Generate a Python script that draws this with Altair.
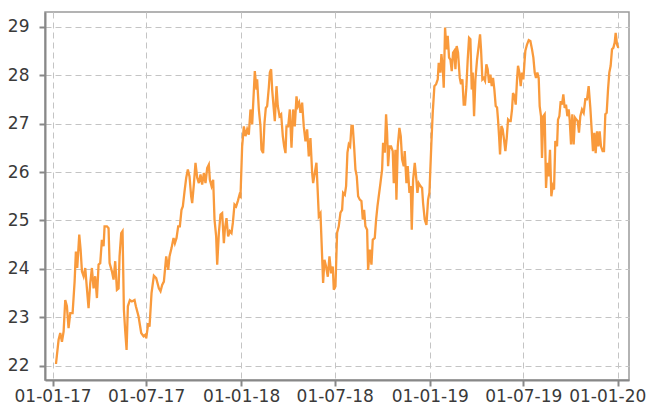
import altair as alt
import pandas as pd

# day offsets from 2017-01-01 and the series values
days = [
    6.5, 11.6, 14.8, 18.1, 21.3, 24.5, 27.7, 30.9, 34.2, 38.7, 42.6, 45.1, 47.7, 51.6, 54.2, 56.8,
    60.0, 63.2, 66.4, 69.6, 72.9, 76.1, 79.3, 82.5, 85.8, 89.0, 92.2, 95.4, 98.7, 100.6, 105.1,
    108.3, 110.3, 114.8, 118.0, 121.2, 124.5, 127.7, 129.6, 132.8, 135.4, 138.0, 140.6, 143.2,
    145.7, 149.6, 153.5, 158.6, 161.2, 166.4, 171.5, 176.1, 179.3,
    181.2, 185.1, 187.6, 191.5, 196.0, 200.5, 205.7, 208.9, 212.1, 215.4, 219.9, 223.8, 226.3,
    230.2, 234.1, 236.7, 239.9, 243.1, 246.3, 249.5, 252.1, 255.4, 258.6, 261.8, 265.0, 268.2,
    270.2, 273.4, 276.6, 279.9, 283.1, 286.3, 289.5, 292.8, 296.0, 299.2, 302.4, 304.4, 307.6,
    310.8, 313.4, 316.6, 318.6, 321.8, 325.0, 328.2, 331.5, 333.4, 336.6, 339.8, 343.1, 346.3,
    348.9, 352.1, 355.3, 358.5, 361.8,
    363.7, 366.9, 370.2, 373.4, 376.6, 379.8, 383.0, 386.3, 389.5, 391.4, 394.7, 395.9, 399.2,
    402.4, 404.3, 407.5, 410.1, 412.7, 415.3, 418.5, 420.5, 423.0, 425.0, 428.2, 430.1, 433.4,
    435.9, 439.2, 442.4, 445.6, 448.2, 450.8, 452.7, 456.0, 459.2, 462.4, 465.6, 468.8, 472.1,
    474.6, 477.2, 479.8, 483.0, 486.2, 489.5, 492.7, 495.9, 499.1, 502.4, 504.3, 507.5, 510.7,
    513.3, 515.3, 518.5, 521.7, 523.6, 526.2, 529.4, 532.7, 535.9, 539.1, 542.3, 544.3, 547.5,
    550.7, 553.9, 557.2, 560.4, 562.3, 565.6, 568.1, 570.7, 573.3, 575.9, 578.5, 581.0, 583.6,
    586.2, 588.8, 591.4, 594.6, 597.8, 600.4, 603.0, 605.5, 608.8, 610.7, 613.9, 617.2, 619.7,
    623.6, 626.2, 628.8, 631.3, 634.6, 637.8, 639.7, 643.0, 645.5, 647.5, 649.4, 652.0, 655.2,
    658.4, 660.4, 663.6, 665.5, 668.1, 671.3, 673.9, 676.5, 679.7, 681.6, 684.9, 687.4, 690.7,
    693.2, 695.2, 697.8, 701.0, 703.6, 706.2, 708.7, 712.0, 715.2, 717.1, 720.3, 723.6, 726.8,
    729.4,
    733.2, 735.8, 739.0, 742.3, 745.5, 747.4, 750.6, 752.6, 755.2, 757.1, 759.7, 762.3, 764.8,
    767.4, 770.0, 772.6, 775.2, 777.7, 779.7, 782.2, 784.8, 788.1, 790.6, 793.2, 795.8, 798.4,
    801.0, 803.5, 806.1, 808.7, 811.3, 813.2, 815.8, 818.4, 821.6, 824.8, 827.4, 829.3, 831.9,
    834.5, 837.1, 839.6, 842.2, 844.8, 847.4, 850.0, 852.5, 855.1, 857.7, 860.3, 862.2, 864.2,
    866.1, 868.7, 871.2, 873.8, 876.4, 879.0, 881.6, 884.1, 886.7, 889.3, 891.2, 893.8, 896.4,
    899.0, 900.9, 903.5, 906.1, 908.6, 911.2, 913.8,
    915.1, 918.3, 921.6, 924.8, 928.0, 930.6, 933.2, 935.7, 938.3, 940.9, 942.8, 945.4, 947.3,
    949.9, 952.5, 955.1, 957.7, 960.2, 962.8, 965.4, 968.0, 970.6, 973.1, 976.4, 978.3, 980.9,
    983.5, 986.0, 988.6, 991.2, 993.8, 996.4, 998.9, 1000.9, 1003.5, 1006.0, 1008.6, 1011.2,
    1013.8, 1016.3, 1018.9, 1021.5, 1024.7, 1028.0, 1031.2, 1034.4, 1037.6, 1040.9, 1043.4,
    1046.0, 1048.6, 1051.2, 1053.8, 1056.4, 1058.9, 1061.5, 1064.7, 1067.3, 1069.9, 1072.5,
    1075.1, 1077.6, 1080.2, 1082.8, 1085.4, 1088.0, 1089.9, 1092.5, 1095.1,
]

values = [
    22.04, 22.54, 22.68, 22.50, 22.71, 23.36, 23.23, 22.78, 23.09, 23.09, 23.74, 24.36, 24.02, 24.71, 24.40, 23.95,
    23.85, 24.02, 23.60, 23.19, 23.71, 24.02, 23.60, 23.85, 23.40, 24.09, 24.12, 24.60, 24.47, 24.88, 24.88,
    24.84, 24.12, 23.95, 23.78, 24.16, 23.57, 23.60, 24.26, 24.74, 24.78, 23.16, 22.71, 22.33,
    23.23, 23.36, 23.33, 23.36, 23.23, 23.02, 22.68, 22.61, 22.64,
    22.57, 22.88, 22.81, 23.50, 23.86, 23.81, 23.60, 23.54, 23.67, 23.74, 24.26, 23.98, 24.26,
    24.43, 24.64, 24.53, 24.64, 24.88, 24.88, 25.22, 25.29, 25.60, 25.88, 26.05, 25.91, 25.50,
    25.36, 25.74, 26.19, 25.88, 25.77, 25.95, 25.74, 25.98, 25.77, 26.08, 26.15, 25.84, 25.71,
    25.84, 25.02, 24.67, 24.09, 24.74, 25.12, 25.15, 24.53, 24.81, 25.05, 24.67, 24.78, 24.74,
    24.95, 25.33, 25.29, 25.40, 25.53,
    25.50, 26.53, 26.94, 26.74, 26.88, 26.77, 27.29, 26.98, 27.67, 28.08, 27.70, 27.91, 27.29,
    26.94, 26.46, 26.39, 27.01, 27.32, 27.36, 27.74, 28.05, 28.12, 27.70, 27.29, 27.05, 27.77,
    27.36, 27.15, 27.19, 26.74, 26.53, 26.39, 26.94, 26.94, 27.29, 26.50, 27.29, 26.94, 27.56,
    27.36, 27.43, 27.22, 27.43, 26.94, 26.63, 26.88, 26.32, 26.70, 25.98, 25.77, 25.98, 26.19,
    25.57, 25.09, 25.15, 24.26, 23.71, 24.19, 24.05, 23.84, 24.26, 23.91, 24.05, 23.57, 23.64,
    24.75, 24.88, 25.16, 25.22, 25.57, 25.53, 25.71, 26.40, 26.57, 26.53, 26.95, 26.95, 26.53,
    26.05, 25.91, 25.50, 25.43, 25.40, 25.02, 25.22, 24.88, 24.81, 23.98, 24.40, 24.09, 24.60,
    24.64, 25.02, 25.29, 25.50, 25.77, 26.05, 26.60, 26.40, 27.19, 26.81, 26.12, 26.53, 26.53,
    26.43, 25.77, 26.46, 25.43, 26.53, 26.91, 26.74, 26.26, 26.12, 26.43, 25.77, 26.12, 25.57,
    25.71, 24.81, 25.84, 26.19, 25.91, 25.57, 25.77, 25.71, 25.67, 25.36, 25.02, 24.91, 25.43,
    25.57,
    26.60, 27.22, 27.77, 27.81, 27.91, 28.25, 28.05, 28.43, 28.15, 27.74, 28.98, 28.53, 28.81,
    28.36, 28.32, 28.08, 28.46, 28.50, 28.12, 28.60, 28.46, 27.94, 27.81, 27.91, 27.39, 27.39,
    27.77, 28.32, 28.77, 28.74, 27.70, 28.05, 27.15, 27.91, 28.32, 28.60, 28.84, 28.53, 27.91,
    27.94, 27.88, 28.22, 28.12, 27.84, 28.01, 27.77, 27.94, 27.70, 27.36, 27.33, 27.08, 26.74,
    26.36, 26.95, 26.88, 26.67, 26.43, 26.70, 27.08, 27.05, 27.05, 27.29, 27.63, 27.57, 27.39,
    27.91, 28.19, 28.05, 27.77, 28.05, 27.91, 28.32,
    28.50, 28.63, 28.72, 28.70, 28.53, 28.36, 28.05, 27.94, 28.05, 27.94, 27.36, 27.15, 26.29,
    27.15, 27.19, 25.67, 26.19, 25.91, 26.46, 25.50, 25.71, 25.64, 26.64, 26.53, 27.08, 27.15,
    27.46, 27.39, 27.60, 27.32, 27.39, 27.15, 27.29, 27.08, 26.57, 27.19, 26.57, 27.12,
    27.08, 27.05, 26.81, 27.15, 27.29, 27.22, 27.50, 27.50, 27.77, 27.32, 26.88,
    26.43, 26.81, 26.39, 26.84, 26.53, 26.84, 26.53, 26.43, 26.43, 27.19, 27.22,
    27.70, 28.05, 28.19, 28.53, 28.56, 28.67, 28.87, 28.63, 28.56,
]

y_ticks = [22, 23, 24, 25, 26, 27, 28, 29]
x_ticks = [(2017, 1), (2017, 7), (2018, 1), (2018, 7), (2019, 1), (2019, 7), (2020, 1)]

dates = pd.Timestamp("2017-01-01") + pd.to_timedelta(days, unit="D")
df = pd.DataFrame({"date": dates, "value": values})

font = "DejaVu Sans"

chart = (
    alt.Chart(df)
    .mark_line(color="#f99a3c", strokeWidth=2.3)
    .encode(
        x=alt.X(
            "date:T",
            scale=alt.Scale(
                domain=[
                    alt.DateTime(year=2016, month=12, date=17, hours=7),
                    alt.DateTime(year=2020, month=1, date=21, hours=17),
                ]
            ),
            axis=alt.Axis(
                values=[alt.DateTime(year=y, month=m, date=1) for y, m in x_ticks],
                format="%d-%m-%y",
                title=None,
                labelPadding=2,
                labelOffset={
                    "condition": {"test": "year(datum.value) >= 2020", "value": -11},
                    "value": 0,
                },
            ),
        ),
        y=alt.Y(
            "value:Q",
            scale=alt.Scale(domain=[21.71, 29.3], nice=False, zero=False),
            axis=alt.Axis(values=y_ticks, title=None, labelPadding=10),
        ),
    )
    .properties(
        width=584,
        height=368,
        autosize=alt.AutoSizeParams(type="none"),
        padding={"left": 37, "top": 4, "right": 17, "bottom": 24},
    )
    .configure_axis(
        labelFont=font,
        labelFontSize=17,
        labelColor="#3a3a3a",
        domainColor="#888888",
        domainWidth=2,
        tickColor="#888888",
        tickWidth=2,
        tickSize=6,
        gridColor="#c4c4c4",
        gridDash=[6, 4],
        gridWidth=1,
        labelBound=False,
        labelOverlap=False,
        labelFlush=False,
    )
    .configure_view(stroke="#9a9a9a", strokeWidth=1.5)
)

chart.save("out.html", embed_options={"renderer": "svg", "actions": False})
